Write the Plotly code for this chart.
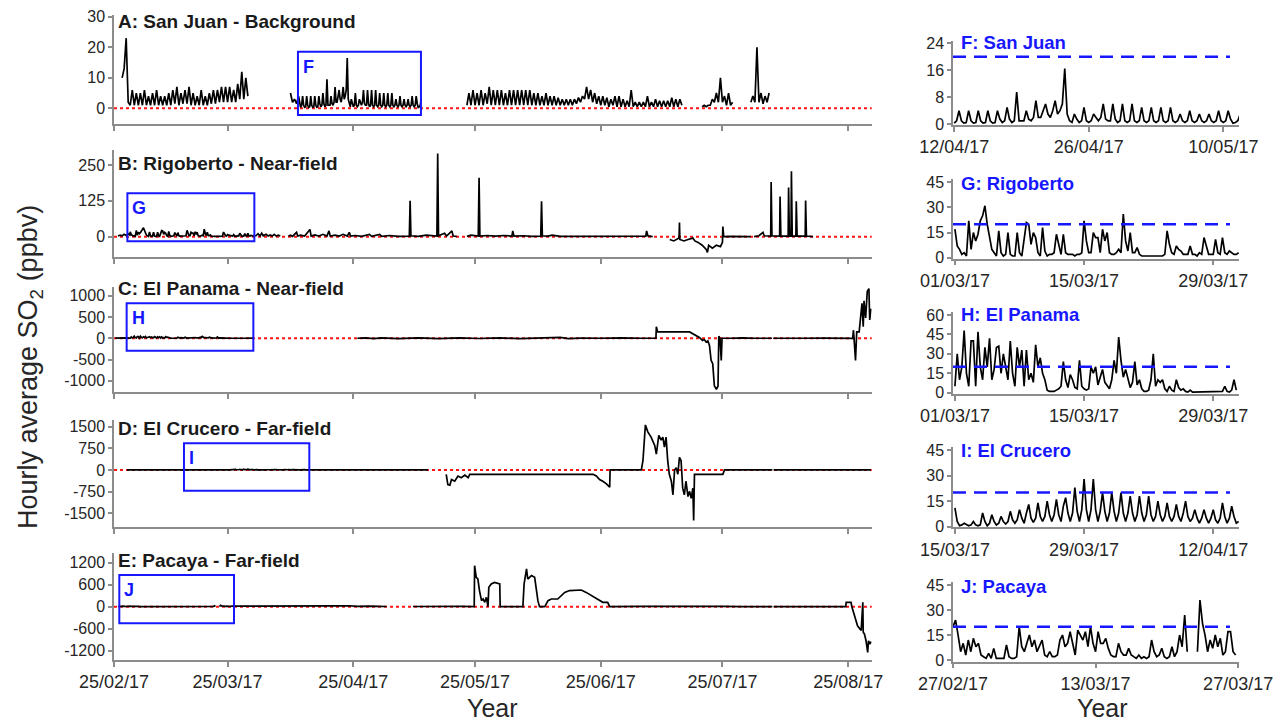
import pandas as pd
import plotly.graph_objects as go

W, H = 1283, 722
FONT = "Arial, 'Liberation Sans', Helvetica, sans-serif"
BLUE = "#1717ff"
RED = "#ff1414"
AXC = "#8c8c8c"
TXT = "#262626"

T0 = pd.Timestamp("2017-02-25")

# ------------------------------------------------------------------ data
# A: San Juan, 12-hourly segments (values in ppbv)
a1_start = "2017-02-27 00:00"
a1_vals = [10, 13, 23, 2, 1, 6, 1, 5, 1, 5, 1, 6, 1, 4, 1, 5, 1, 6, 1, 4, 1, 4, 1, 5, 1, 6,
           1.5, 7, 1, 5, 1.5, 6, 1.5, 7, 1, 5, 1, 4, 1, 6, 1, 4, 1, 5, 1.5, 6, 1.5, 6, 2, 7,
           2, 7, 2, 7, 2, 6, 2, 8, 3, 12, 3, 10, 4]
a2_start = "2017-04-09 00:00"
a2_vals = [None, 5, 2, 3, 1.5, 4]
a3_start = "2017-05-22 12:00"
a3_vals = [None, 1, 5, 1, 6, 1, 5, 1, 6, 1, 5, 1.5, 7, 1, 6, 1, 6, 1, 6,
           1, 5, 1, 6, 1, 6, 1, 6, 1, 6, 1, 6, 1, 6, 1, 5, 1, 5, 1, 4, 1, 5, 1, 4, 1, 4,
           1, 3.5, 1, 3, 1, 3, 1, 3, 1, 3, 1.5, 3.5, 2, 4, 3, 7, 3, 6, 2, 5, 1.5, 4, 1, 4,
           1, 3.5, 0.5, 3, 1, 4, 0.5, 4, 0.5, 3,
           0.5, 2.5, 0.5, 6, 0.5, 2, 0.5, 2, 0.5, 2, 0.5, 4, 0.5, 2, 0.5, 3, 0.5, 2.5,
           0.5, 2.5, 0.5, 2.5, 0.5, 3.5, 0.5, 3, 0.5, 3, 1]
a4_start = "2017-07-19 12:00"
a4_vals = [None, 0.5, 1, 0.5, 1, 1, 3, 2, 5, 2, 10, 2, 4, 1, 5, 1, 2]
a5_start = "2017-07-31 12:00"
a5_vals = [None, 2, 4, 2, 20, 2, 5, 1.5, 4, 2, 5]

# F: San Juan zoom, 6-hourly from 12/04/17
f_start = "2017-04-12 00:00"
f_vals = [0.3, 1, 4, 1, 0.3, 0.5, 4, 1, 0.3, 0.5, 4, 1, 0.3, 0.5, 4, 1, 0.3, 0.5, 4, 1.5,
          0.5, 1, 5, 1.5, 0.5, 1, 9.5, 1, 1, 1, 4, 1.5, 1, 2, 7, 2, 2, 4, 6, 3,
          2, 4, 7, 3, 4, 6, 16.5, 3, 1, 0.5, 3, 1.5, 0.5, 1, 5, 1, 0.5, 1, 3, 2,
          1, 2, 6, 1.5, 1, 1, 6, 1.5, 0.5, 1, 6, 1, 0.5, 1, 6, 1, 0.5, 1, 5, 1,
          0.5, 1, 5, 1, 0.5, 1, 5, 1, 0.5, 1, 5, 1, 0.5, 1, 3, 1, 0.5, 1, 4, 1,
          0.5, 1, 3, 1, 0.5, 1, 3, 1, 0.5, 1, 4, 1, 0.5, 1, 4, 1.5, 0.3, 0.5, 1, 3]

# G: Rigoberto zoom, 6-hourly from 01/03/17
g_start = "2017-03-01 00:00"
g_vals = [17, 7, 5, 2, 3, 1, 22, 5, 15, 10, 14, 22, 25, 31, 20, 12, 5, 3, 1, 16,
          3, 1, 2, 15, 2, 1, 1, 15, 3, 1, 10, 21, 20, 8, 15, 12, 3, 1, 18, 4,
          1, 2, 2, 3, 14, 8, 2, 14, 3, 2, 2, 2, 1, 2, 2, 3, 22, 10, 3, 3,
          15, 12, 12, 3, 17, 10, 15, 3, 2, 2, 3, 5, 3, 26, 10, 4, 15, 3, 3, 6,
          2, 1, 1, 1, 1, 1, 1, 1, 1, 1, 1, 2, 16, 8, 3, 2, 7, 5, 4, 2,
          2, 2, 7, 2, 2, 1, 3, 2, 12, 6, 2, 2, 2, 11, 3, 2, 12, 3, 2, 4, 3, 2, 2, 3]

# H: El Panama zoom, 6-hourly from 01/03/17
h_start = "2017-03-01 00:00"
h_vals = [5, 30, 10, 20, 48, 15, 5, 40, 40, 5, 47, 20, 10, 35, 20, 42, 10, 18, 35, 36,
          15, 30, 20, 10, 40, 15, 5, 35, 20, 33, 5, 33, 10, 15, 8, 37, 20, 27, 15, 10,
          2, 1, 1, 1, 2, 3, 5, 24, 10, 4, 14, 10, 4, 3, 25, 5, 3, 2, 3, 20,
          15, 20, 6, 12, 18, 8, 5, 3, 10, 25, 15, 43, 25, 12, 18, 10, 4, 8, 24, 6,
          10, 3, 1, 1, 2, 10, 30, 5, 10, 8, 10, 3, 1, 5, 2, 1, 10, 4, 2, 3,
          1, 0.5, 2, 0.5, 0.5, 0.5, 0.5, 0.5, 0.5, 0.5, 0.5, 0.5, 0.5, 0.5, 0.5, 0.5,
          1, 5, 1, 0.5, 2, 10, 2, None]

# I: El Crucero zoom, 6-hourly from 15/03/17
i_start = "2017-03-15 00:00"
i_vals = [11, 3, 0.5, 1, 2, 1, 0.5, 1, 3, 1, 0.5, 1, 8, 3, 0.5, 2, 7, 3, 1, 2,
          6, 3, 1.5, 3, 9, 4, 2, 4, 10, 5, 2, 8, 13, 5, 2.5, 5, 14, 6, 3, 6,
          15, 7, 3, 7, 16, 7, 3, 12, 17, 8, 3, 8, 23, 9, 3, 10, 28, 10, 3, 10,
          28, 10, 3, 9, 20, 9, 3, 8, 20, 9, 3, 8, 20, 8, 3, 8, 18, 8, 3, 7,
          18, 8, 3, 7, 18, 7, 3, 6, 15, 7, 3, 6, 14, 6, 3, 6, 13, 6, 3, 8,
          15, 6, 3, 5, 10, 5, 2, 5, 10, 5, 2, 5, 10, 4, 2, 5, 14, 6, 2, 5, 12, 6, 2, 3]

# J: Pacaya zoom, 6-hourly from 27/02/17
j_start = "2017-02-27 00:00"
j_vals = [20, 24, 15, 5, 10, 3, 12, 5, 13, 8, 10, 3, 2, 1, 4, 1, 7, 1, 1, 1,
          1, 9, 2, 1, 1, 2, 20, 8, 5, 10, 15, 8, 12, 5, 8, 12, 3, 2, 5, 2,
          2, 3, 12, 15, 8, 10, 17, 10, 3, 18, 15, 12, 17, 8, 20, 10, 5, 17, 10, 10,
          13, 7, 3, 2, 2, 10, 5, 3, 3, 7, 3, 2, 1, 3, 1, 2, 1, 2, 12, 5,
          2, 3, 7, 2, 1, 2, 8, 2, 5, 15, 8, 27, 5, None, None, None,
          5, 36, 22, 15, 5, 12, 7, 15, 8, 13, 3, 5, 17, 17, 5, 3]

# B: Rigoberto, breakpoints (days since 25/02/17, ppbv)
b_day = [1, 1.5, 2, 2.5, 3, 3.5, 3.9,
         35, 35.5, 36, 36.4, 36.8, 37.5, 38, 38.5, 39, 39.5, 40, 40.5, 41, 41.5,
         43, 43.5, 44, 45, 45.3, 46, 47, 48.3, 48.6, 49.5, 50.5, 51.5, 52.5, 53, 53.3, 54.5,
         55.5, 56.5, 57.5, 58, 58.3, 59.5, 61, 62, 63, 63.5, 65.5, 66, 68, 70, 72.8, 73, 73.2,
         75, 77, 79.6, 79.8, 80, 81.5, 82, 83.3, 83.6, 84.5, 85,
         87, 88, 89.8, 90, 90.2, 92, 94, 96, 98.1, 98.3, 98.6, 101, 103, 105.2, 105.4, 105.6,
         107, 108, 110, 115, 120, 125, 130, 131.1, 131.3, 131.6, 132.8, 133,
         137, 138, 139.3, 139.4, 139.5, 140.5, 141.5, 142.7, 143.2, 144, 145, 146, 146.3,
         146.6, 147.5, 148.5, 149.5, 150, 150.1, 150.3, 152, 154, 157, 157.3,
         157.8, 159, 160, 160.3, 161.9, 162, 162.2, 164.1, 164.2, 164.4, 166.2, 166.3, 166.5,
         166.9, 167, 167.2, 168.1, 168.2, 168.4, 170.4, 170.5, 170.7, 172.3]
b_val = [2, 5, 3, 8, 4, 10, 6,
         3, 10, 2, 12, 3, 8, 2, 6, 2, 8, 2, 5, 2, None,
         2, 5, 1, 15, 2, 5, 2, 25, 2, 6, 2, 8, 2, 20, 2, 5,
         2, 8, 2, 15, 2, 4, 1, 5, 8, 1, 8, 1, 4, 1, 2, 125, 3,
         1, 5, 2, 290, 3, 12, 2, 20, 2, 1, None,
         1, 5, 2, 205, 2, 4, 2, 4, 2, 20, 2, 3, 1, 2, 123, 3,
         2, 5, 1, 1, 1, 1, 1, 2, 20, 3, 0, None,
         -10, -15, -5, 49, -10, -15, -10, -5, -15, -20, -30, -45, -55,
         -30, -40, -30, -35, -20, 35, 0, 1, 0, 0, None,
         0, 3, 15, 3, 2, 190, 3, 2, 140, 2, 2, 171, 2,
         2, 228, 2, 2, 123, 2, 2, 126, 2, 0]

# C: El Panama, breakpoints
c_day = [0.3, 1, 2, 3, 3.9, 34.8,
         60, 62, 64, 66, 70, 75, 80, 85, 90, 95, 100, 105, 110, 112, 115, 120, 125, 130,
         133.6, 133.7, 134, 141.9, 142.7, 143.5, 144.3, 145.1, 145.5, 146, 146.4, 146.8,
         147.2, 147.6, 148, 148.5, 148.9, 149.1, 149.4, 149.7, 149.9, 152, 155, 158, 162.2,
         162.35, 162.5, 165, 170, 175, 180, 182.1, 182.3, 182.8, 183.1, 183.7, 184.4, 184.7,
         184.9, 185.3, 185.7, 186.1, 186.3, 186.6]
c_val = [5, 10, 5, 10, 5, None,
         0, 10, -10, 10, -10, 10, -10, 10, -5, 10, -10, 5, 20, -10, 5, 0, 10, 0,
         0, 270, 150, 150, 110, 70, 20, -50, -30, -90, -60, -170,
         -520, -600, -1120, -1200, -1130, 50, 0, -520, 0, 0, 10, 0, 0,
         None, 0, 5, 0, 5, 0, 0, 190, -520, 150, 150, 825, 270,
         880, 480, 1100, 1170, 430, 700]

# D: El Crucero, breakpoints
d_day = [3.2, 5, 8, 11, 14, 17.9,
         49, 52, 55, 58, 62, 66, 70, 74, 77.4, 77.5,
         81.9, 82.3, 82.8, 83.2, 84, 84.8, 85.6, 86.5, 87.3, 87.7, 88.5, 100, 110,
         118.1, 118.9, 119.7, 120.5, 121.4, 122.2, 122.3, 130, 130.4, 131, 131.6, 132.4,
         133.3, 133.7, 134.3, 134.9, 135.3, 135.7, 136.1, 136.5, 136.9, 137.4, 137.8, 138.2,
         138.6, 139, 139.4, 139.8, 140.2, 140.6, 141, 141.5, 141.9, 142.3, 142.7, 142.9,
         143.1, 150.1, 150.5, 162.3, 162.4, 162.6, 186.6]
d_val = [0, 2, 0, 3, 0, 2,
         2, 0, 3, 0, 5, 0, 3, 0, 0, None,
         -150, -510, -530, -330, -390, -210, -270, -180, -270, -150, -150, -150, -150,
         -150, -210, -330, -390, -480, -600, 0, 0, 320, 1560, 1320, 1140,
         850, 550, 1200, 1030, 1140, 790, 1140, 320, -150, -390, -860, 0,
         80, -150, 440, 320, -630, -860, -390, -920, -740, -980, -630, -1750,
         -150, -150, 0, 0, None, 0, 0]

# E: Pacaya, breakpoints
e_day = [1, 1.9,
         30, 32, 34, 37, 40, 45, 50, 55, 58, 60, 63, 67.2, 67.3,
         73.7, 78, 82, 86, 88.8, 88.9, 89.3, 89.7, 90.1, 90.6, 91, 91.4, 91.8, 92.2, 92.4,
         93, 93.8, 94.7, 95.1, 95.2, 100.8, 101.1, 101.7, 102, 102.9, 103.7, 104.1, 104.5,
         104.9, 106.2, 107, 107.8, 109.4, 110.3, 111.1, 112.3, 114, 115.2, 116.4, 117.7,
         118.9, 120.5, 121.7, 122.2, 130, 140, 150, 155, 162.3, 162.4, 162.6, 180.4, 180.5,
         181.7, 181.9, 182.5, 183.3, 184.2, 184.5, 184.6, 184.7, 185, 185.4, 185.8, 186,
         186.4, 186.6]
e_val = [5, 10,
         5, 10, 0, 10, 0, 15, 5, 20, 25, 10, 15, 5, None,
         5, 10, 0, 10, 0, 1120, 800, 755, 440, 165, 210, 120, 255, 0, 530,
         620, 660, 620, 620, 0, 0, 620, 1030, 755, 850, 800, 480, 165,
         0, 0, 165, 210, 210, 300, 390, 440, 440, 455, 390, 300,
         210, 120, 120, 0, 10, 20, 10, 0, 0, None, 0, 0, 120,
         120, 0, -245, -520, -650, 100, 120, -700, -745, -930, -1250, -930,
         -1020, -950]

# tick labels
left_ticks = ["2017-02-25", "2017-03-25", "2017-04-25", "2017-05-25",
              "2017-06-25", "2017-07-25", "2017-08-25"]
left_ticktext = ["25/02/17", "25/03/17", "25/04/17", "25/05/17",
                 "25/06/17", "25/07/17", "25/08/17"]
f_ticks = ["2017-04-12", "2017-04-26", "2017-05-10"]
gh_ticks = ["2017-03-01", "2017-03-15", "2017-03-29"]
i_ticks = ["2017-03-15", "2017-03-29", "2017-04-12"]
j_ticks = ["2017-02-27", "2017-03-13", "2017-03-27"]


# ------------------------------------------------------------------ helpers
def grid(start, vals, hours):
    return list(pd.date_range(start, periods=len(vals), freq=f"{hours}h")), list(vals)


def from_days(days, vals):
    return [T0 + pd.Timedelta(days=d) for d in days], list(vals)


def merged(*parts):
    pts = []
    for xs, ys in parts:
        pts.extend(zip(xs, ys))
    pts.sort(key=lambda p: p[0])
    return [p[0] for p in pts], [p[1] for p in pts]


def ddmm(ticks):
    return [pd.Timestamp(t).strftime("%d/%m/%y") for t in ticks]


F = grid(f_start, f_vals, 6)
G = grid(g_start, g_vals, 6)
Hs = grid(h_start, h_vals, 6)
I = grid(i_start, i_vals, 6)
J = grid(j_start, j_vals, 6)

A = merged(grid(a1_start, a1_vals, 12), grid(a2_start, a2_vals, 12), F,
           grid(a3_start, a3_vals, 12), grid(a4_start, a4_vals, 12),
           grid(a5_start, a5_vals, 12))
B = merged(from_days(b_day, b_val), G)
C = merged(from_days(c_day, c_val), Hs)
D = merged(from_days(d_day, d_val), I)
E = merged(from_days(e_day, e_val), J)


def px(x):
    return x / W


def py(y):
    return 1 - y / H


LX = (114, 871.7)
RX = (953, 1239)
LRANGE = ["2017-02-25 00:00", "2017-08-30 19:00"]

panels = [
    # series, xdom, (top,bottom), xrange, yrange, yticks, xticks, xtext, xlabels, left
    (A, LX, (15, 124), LRANGE, [-5.15, 30.6], [0, 10, 20, 30], left_ticks, left_ticktext, False, True),
    (B, LX, (150, 257), LRANGE, [-71, 302], [0, 125, 250], left_ticks, left_ticktext, False, True),
    (C, LX, (287, 392), LRANGE, [-1265, 1207], [-1000, -500, 0, 500, 1000], left_ticks, left_ticktext, False, True),
    (D, LX, (420, 527), LRANGE, [-1975, 1730], [-1500, -750, 0, 750, 1500], left_ticks, left_ticktext, False, True),
    (E, LX, (553, 660), LRANGE, [-1455, 1465], [-1200, -600, 0, 600, 1200], left_ticks, left_ticktext, True, True),
    (F, RX, (40.7, 125), ["2017-04-11 21:00", "2017-05-11 15:00"], [-0.25, 24.8], [0, 8, 16, 24], f_ticks, ddmm(f_ticks), True, False),
    (G, RX, (179.3, 258.7), ["2017-02-28 19:00", "2017-03-31 19:00"], [-0.6, 46.8], [0, 15, 30, 45], gh_ticks, ddmm(gh_ticks), True, False),
    (Hs, RX, (311.7, 394), ["2017-02-28 19:00", "2017-03-31 19:00"], [-1, 62.6], [0, 15, 30, 45, 60], gh_ticks, ddmm(gh_ticks), True, False),
    (I, RX, (446.7, 527.3), ["2017-03-14 19:00", "2017-04-14 19:00"], [-0.4, 47], [0, 15, 30, 45], i_ticks, ddmm(i_ticks), True, False),
    (J, RX, (581.7, 661.7), ["2017-02-27 00:00", "2017-03-27 02:00"], [-1, 47], [0, 15, 30, 45], j_ticks, ddmm(j_ticks), True, False),
]

fig = go.Figure()
layout = dict(template="none", width=W, height=H, autosize=False,
              margin=dict(l=0, r=0, t=0, b=0, pad=0, autoexpand=False),
              plot_bgcolor="white", paper_bgcolor="white", showlegend=False,
              font=dict(family=FONT, color=TXT))
shapes = []
annotations = []

for k, (ser, xd, yd, xr, yr, yt, xt, xtt, xlab, left) in enumerate(panels, start=1):
    sfx = "" if k == 1 else str(k)
    layout["xaxis" + sfx] = dict(
        domain=[px(xd[0]), px(xd[1])], range=xr, type="date", anchor="y" + sfx,
        showline=True, linecolor=AXC, linewidth=1.5, ticks="outside", ticklen=5,
        tickwidth=1.5, tickcolor=AXC, tickvals=xt, ticktext=xtt, showticklabels=xlab,
        showgrid=False, zeroline=False, automargin=False,
        tickfont=dict(size=18, color=TXT), fixedrange=True)
    layout["yaxis" + sfx] = dict(
        domain=[py(yd[1]), py(yd[0])], range=yr, anchor="x" + sfx,
        showline=True, linecolor=AXC, linewidth=1.5, ticks="outside", ticklen=4,
        tickwidth=1.5, tickcolor=AXC, tickvals=yt, ticktext=[str(v) for v in yt],
        showgrid=False, zeroline=False, automargin=False,
        tickfont=dict(size=16, color=TXT), fixedrange=True)
    fig.add_trace(go.Scatter(x=ser[0], y=ser[1], mode="lines",
                             line=dict(color="black", width=1.7),
                             xaxis="x" + sfx, yaxis="y" + sfx, hoverinfo="skip"))
    if left:
        shapes.append(dict(type="line", xref="x" + sfx + " domain", yref="y" + sfx,
                           x0=0, x1=1, y0=0, y1=0, layer="below",
                           line=dict(color=RED, width=2, dash="dot")))
    else:
        shapes.append(dict(type="line", xref="paper", yref="y" + sfx,
                           x0=px(953), x1=px(1230), y0=20, y1=20,
                           line=dict(color=BLUE, width=2.5, dash="13px,8px")))

# zoom-window boxes on left panels (days since 25/02/17)
boxes = [("", "F", 45.35, 75.67, -2.2, 18.56),
         ("2", "G", 3.3, 34.6, -16, 151),
         ("3", "H", 3.12, 34.35, -292, 824),
         ("4", "I", 17.25, 48.15, -717, 925),
         ("5", "J", 1.31, 29.58, -453, 865)]
for sfx, letter, d0, d1, y0, y1 in boxes:
    x0 = T0 + pd.Timedelta(days=d0)
    x1 = T0 + pd.Timedelta(days=d1)
    shapes.append(dict(type="rect", xref="x" + sfx, yref="y" + sfx, x0=x0, x1=x1,
                       y0=y0, y1=y1, line=dict(color=BLUE, width=2), fillcolor="rgba(0,0,0,0)"))
    annotations.append(dict(x=x0, y=y1, xref="x" + sfx, yref="y" + sfx, text="<b>%s</b>" % letter,
                            showarrow=False, xanchor="left", yanchor="top", xshift=3, yshift=-3,
                            font=dict(size=18, color=BLUE)))

# panel titles
left_titles = [("A: San Juan - Background", 21.7), ("B: Rigoberto - Near-field", 163.3),
               ("C: El Panama - Near-field", 288.3), ("D: El Crucero - Far-field", 428.3),
               ("E: Pacaya - Far-field", 560.7)]
for txt, yy in left_titles:
    annotations.append(dict(x=px(116), y=py(yy), xref="paper", yref="paper", text="<b>%s</b>" % txt,
                            showarrow=False, xanchor="left", yanchor="middle",
                            font=dict(size=19, color="#1a1a1a")))
right_titles = [("F: San Juan", 43), ("G: Rigoberto", 183.3), ("H: El Panama", 315),
                ("I: El Crucero", 450), ("J: Pacaya", 586.7)]
for txt, yy in right_titles:
    annotations.append(dict(x=px(959), y=py(yy), xref="paper", yref="paper", text="<b>%s</b>" % txt,
                            showarrow=False, xanchor="left", yanchor="middle",
                            font=dict(size=18.5, color=BLUE)))

annotations.append(dict(x=px(30), y=py(367), xref="paper", yref="paper",
                        text="Hourly average SO<sub>2</sub> (ppbv)", textangle=-90,
                        showarrow=False, xanchor="center", yanchor="middle",
                        font=dict(size=27, color=TXT)))
for xx in (492, 1102):
    annotations.append(dict(x=px(xx), y=py(708), xref="paper", yref="paper", text="Year",
                            showarrow=False, xanchor="center", yanchor="middle",
                            font=dict(size=25, color=TXT)))

layout["shapes"] = shapes
layout["annotations"] = annotations
fig.update_layout(**layout)

fig.write_html("out.html", config={"displayModeBar": False},
               post_script="document.body.style.margin='0';document.body.style.overflow='hidden';")
